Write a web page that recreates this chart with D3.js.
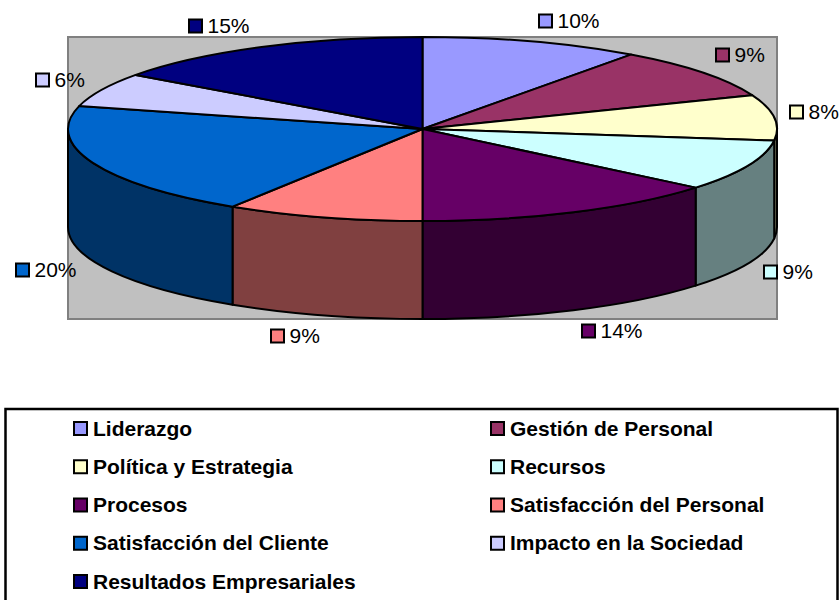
<!DOCTYPE html>
<html>
<head>
<meta charset="utf-8">
<script src="https://cdnjs.cloudflare.com/ajax/libs/d3/7.8.5/d3.min.js"></script>
<style>
  html, body { margin: 0; padding: 0; background: #fff; overflow: hidden; }
  text { font-family: "Liberation Sans", Arial, sans-serif; fill: #000; }
</style>
</head>
<body>
<div id="chart"></div>
<script>
var categories = ["Liderazgo", "Gestión de Personal", "Política y Estrategia", "Recursos", "Procesos",
                  "Satisfacción del Personal", "Satisfacción del Cliente", "Impacto en la Sociedad", "Resultados Empresariales"];
var values = [10, 9, 8, 9, 14, 9, 20, 6, 15];
var topColors = ["#9999FF", "#993366", "#FFFFCC", "#CCFFFF", "#660066", "#FF8080", "#0066CC", "#CCCCFF", "#000080"];
var sideColors = ["#4D4D80", "#4D1A33", "#808066", "#668080", "#330033", "#804040", "#003366", "#666680", "#000040"];
// left edge of swatch / centre y for each data label
var labelX = [538, 715, 789, 763, 581, 270, 15, 35, 188];
var labelY = [21, 55, 112, 272, 331, 336, 270, 80, 26];

var w = 839, h = 600;
var plot = {left: 68, right: 777, top: 37, bottom: 319},
    pieTop = {top: 37, bottom: 221},
    depth = plot.bottom - pieTop.bottom;
var legendBox = {x: 5.5, y: 409, width: 832, height: 200};

var svg = d3.select("#chart").append("svg")
    .attr("width", w)
    .attr("height", h);

// unit circle -> tilted ellipse
var xScale = d3.scaleLinear().domain([-1, 1]).range([plot.left, plot.right]),
    yScale = d3.scaleLinear().domain([1, -1]).range([pieTop.top, pieTop.bottom]);
var rx = (xScale(1) - xScale(-1)) / 2,
    ry = (yScale(-1) - yScale(1)) / 2;

function px(a) { return xScale(Math.sin(a)); }
function py(a) { return yScale(Math.cos(a)); }

var pie = d3.pie().sort(null).value(function(d) { return d; });
var slices = pie(values);

function topPath(d) {
  var large = d.endAngle - d.startAngle > Math.PI ? 1 : 0;
  return "M" + xScale(0) + "," + yScale(0) +
    "L" + px(d.startAngle) + "," + py(d.startAngle) +
    "A" + rx + "," + ry + " 0 " + large + " 1 " + px(d.endAngle) + "," + py(d.endAngle) + "Z";
}

// only the front half of the rim is visible
function sidePath(d) {
  var a = Math.max(d.startAngle, Math.PI / 2),
      b = Math.min(d.endAngle, Math.PI * 1.5);
  if (b <= a) return null;
  return "M" + px(a) + "," + py(a) +
    "A" + rx + "," + ry + " 0 0 1 " + px(b) + "," + py(b) +
    "L" + px(b) + "," + (py(b) + depth) +
    "A" + rx + "," + ry + " 0 0 0 " + px(a) + "," + (py(a) + depth) + "Z";
}

// plot area
svg.append("rect")
    .attr("x", plot.left)
    .attr("y", plot.top)
    .attr("width", plot.right - plot.left)
    .attr("height", plot.bottom - plot.top)
    .attr("fill", "#C0C0C0")
    .attr("stroke", "#808080")
    .attr("stroke-width", 2);

// rim
svg.append("g").selectAll("path")
    .data(slices)
    .enter().append("path")
    .attr("d", sidePath)
    .attr("fill", function(d, i) { return sideColors[i]; })
    .attr("stroke", "#000")
    .attr("stroke-width", 2)
    .attr("stroke-linejoin", "round");

// top face
svg.append("g").selectAll("path")
    .data(slices)
    .enter().append("path")
    .attr("d", topPath)
    .attr("fill", function(d, i) { return topColors[i]; })
    .attr("stroke", "#000")
    .attr("stroke-width", 2)
    .attr("stroke-linejoin", "round");

// data labels
var labels = svg.append("g").selectAll("g")
    .data(values)
    .enter().append("g")
    .attr("transform", function(d, i) { return "translate(" + labelX[i] + "," + labelY[i] + ")"; });
labels.append("rect")
    .attr("x", 1)
    .attr("y", -6.5)
    .attr("width", 13)
    .attr("height", 13)
    .attr("fill", function(d, i) { return topColors[i]; })
    .attr("stroke", "#000")
    .attr("stroke-width", 2);
labels.append("text")
    .attr("x", 19.5)
    .attr("y", 7)
    .style("font-size", "21px")
    .text(function(d) { return d + "%"; });

// legend
svg.append("rect")
    .attr("x", legendBox.x)
    .attr("y", legendBox.y)
    .attr("width", legendBox.width)
    .attr("height", legendBox.height)
    .attr("fill", "#fff")
    .attr("stroke", "#000")
    .attr("stroke-width", 2.5);

var colX = d3.scaleOrdinal().domain([0, 1]).range([73, 490]),
    rowY = d3.scaleLinear().domain([0, 4]).range([429, 582]);

var legend = svg.append("g").selectAll("g")
    .data(categories)
    .enter().append("g")
    .attr("transform", function(d, i) {
      return "translate(" + colX(i % 2) + "," + rowY(Math.floor(i / 2)) + ")";
    });
legend.append("rect")
    .attr("x", 1)
    .attr("y", -7)
    .attr("width", 13)
    .attr("height", 13)
    .attr("fill", function(d, i) { return topColors[i]; })
    .attr("stroke", "#000")
    .attr("stroke-width", 2);
legend.append("text")
    .attr("x", 20)
    .attr("y", 6.5)
    .style("font-size", "21px")
    .style("font-weight", "bold")
    .text(function(d) { return d; });
</script>
</body>
</html>
